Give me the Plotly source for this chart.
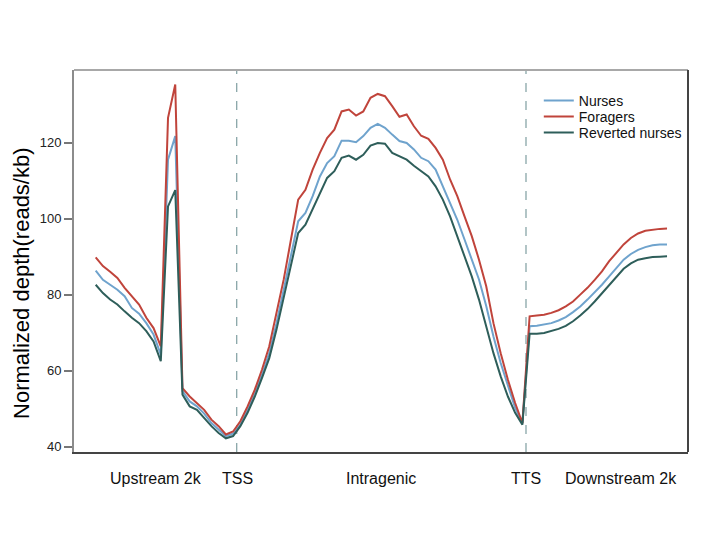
import plotly.graph_objects as go

# bin positions: 20 upstream, 40 gene body, 20 downstream
positions = list(range(1, 81))

nurses = [86.3, 83.9, 82.6, 81.3, 79.6, 76.5, 75.0, 72.5, 69.5, 64.2,
          115.5, 121.7, 54.6, 51.9, 50.6, 48.7, 46.2, 44.5, 42.8, 43.4,
          45.8, 49.7, 54.1, 59.0, 64.6, 72.5, 81.3, 90.1, 99.3, 101.5,
          105.9, 111.1, 114.6, 116.4, 120.5, 120.5, 120.1, 121.7, 123.9, 124.9,
          123.9, 122.1, 120.4, 119.9, 118.2, 116.0, 115.1, 112.9, 108.5, 104.1,
          99.7, 94.5, 89.2, 84.0, 77.0, 69.0, 62.0, 55.9, 50.2, 46.2,
          71.7, 71.8, 72.1, 72.5, 73.2, 74.1, 75.4, 76.9, 78.7, 80.6,
          82.6, 84.8, 87.0, 89.2, 90.7, 91.8, 92.5, 93.0, 93.2, 93.2]

foragers = [89.8, 87.5, 86.0, 84.4, 81.8, 79.6, 77.4, 73.9, 71.2, 66.4,
            126.5, 135.3, 55.4, 53.2, 51.5, 49.7, 47.1, 45.4, 43.2, 44.0,
            46.7, 50.6, 55.0, 60.3, 66.4, 75.2, 84.0, 94.5, 105.0, 107.6,
            112.9, 117.3, 121.2, 123.4, 128.2, 128.7, 127.1, 128.2, 131.8, 132.8,
            132.2, 129.6, 126.8, 127.4, 124.3, 121.8, 121.0, 118.6, 115.5, 110.3,
            105.9, 100.6, 95.4, 89.2, 82.2, 72.5, 64.6, 57.6, 51.5, 46.2,
            74.3, 74.5, 74.7, 75.2, 75.9, 76.9, 78.2, 80.0, 81.8, 83.9,
            86.1, 88.8, 91.1, 93.2, 94.9, 96.1, 96.8, 97.1, 97.3, 97.4]

reverted = [82.6, 80.4, 78.7, 77.4, 75.6, 73.9, 72.5, 70.4, 67.7, 62.5,
            103.2, 107.5, 53.7, 50.6, 49.7, 47.5, 45.4, 43.6, 42.2, 42.8,
            45.4, 48.9, 53.2, 58.1, 63.3, 70.8, 79.1, 87.5, 96.2, 98.4,
            102.4, 106.8, 110.7, 112.5, 116.0, 116.6, 115.5, 116.8, 119.2, 119.9,
            119.7, 117.3, 116.4, 115.5, 113.9, 112.5, 111.1, 108.5, 105.0, 100.6,
            95.4, 90.1, 84.8, 78.7, 71.7, 64.6, 58.5, 53.2, 48.9, 45.8,
            69.7, 69.7, 69.9, 70.4, 71.0, 71.8, 73.0, 74.5, 76.2, 78.2,
            80.4, 82.6, 84.8, 86.8, 88.2, 89.2, 89.6, 89.9, 90.0, 90.1]

series_names = ["Nurses", "Foragers", "Reverted nurses"]
series_colors = ["#6fa3cd", "#c0443b", "#2e5e5a"]

region_labels = ["Upstream 2k", "TSS", "Intragenic", "TTS", "Downstream 2k"]
region_pos = [9.35, 20.6, 40.4, 60.5, 73.6]
boundaries = [20.5, 60.5]

y_ticks = [40, 60, 80, 100, 120]

FONT = "Liberation Sans, Arial, sans-serif"

legend_ids = ["legend", "legend2", "legend3"]
legend_y = [0.961, 0.919, 0.877]

fig = go.Figure()
for name, vals, col, lid in zip(series_names, [nurses, foragers, reverted], series_colors, legend_ids):
    fig.add_trace(go.Scatter(x=positions, y=vals, mode="lines", name=name,
                             line=dict(color=col, width=2), legend=lid))

for b in boundaries:
    fig.add_shape(type="line", xref="x", yref="paper", x0=b, x1=b, y0=0, y1=1,
                  line=dict(color="#7f9ea1", width=1.2, dash="dash"), layer="below")

# frame: top and right sides
fig.add_shape(type="line", xref="paper", yref="paper", x0=0, x1=1, y0=1, y1=1,
              line=dict(color="#a8a8a8", width=2))
fig.add_shape(type="line", xref="paper", yref="paper", x0=1, x1=1, y0=0, y1=1,
              line=dict(color="#444444", width=2))

for lab, p in zip(region_labels, region_pos):
    fig.add_annotation(x=p, y=0, xref="x", yref="paper", text=lab, showarrow=False,
                       xanchor="center", yanchor="middle", yshift=-26,
                       font=dict(family=FONT, size=16, color="#111111"))

fig.add_annotation(x=0, y=0.44, xref="paper", yref="paper",
                   text="Normalized depth(reads/kb)", textangle=-90, showarrow=False,
                   xanchor="center", yanchor="middle", xshift=-52,
                   font=dict(family=FONT, size=22, color="#000000"))

legend_common = dict(x=0.757, xanchor="left", yanchor="top",
                     font=dict(family=FONT, size=14, color="#111111"),
                     bgcolor="rgba(0,0,0,0)", itemwidth=30)

# page body has an 8px margin, so shift the plot area up/left by 8px
fig.update_layout(
    width=725, height=541,
    margin=dict(l=66, r=45, t=62, b=97),
    paper_bgcolor="white", plot_bgcolor="white",
    font=dict(family=FONT, color="#222222"),
    showlegend=True,
    legend=dict(y=legend_y[0], **legend_common),
    legend2=dict(y=legend_y[1], **legend_common),
    legend3=dict(y=legend_y[2], **legend_common),
    xaxis=dict(range=[-2.0, 82.9], showgrid=False, zeroline=False,
               showticklabels=False, ticks="", showline=True,
               linecolor="#444444", linewidth=2),
    yaxis=dict(range=[38.6, 139.1], showgrid=False, zeroline=False,
               tickvals=y_ticks, ticks="outside", ticklen=8, tickcolor="#777777",
               tickwidth=1.5, showline=True, linecolor="#8c8c8c", linewidth=2,
               tickfont=dict(family=FONT, size=13, color="#222222")),
)

fig.write_html("out.html")
